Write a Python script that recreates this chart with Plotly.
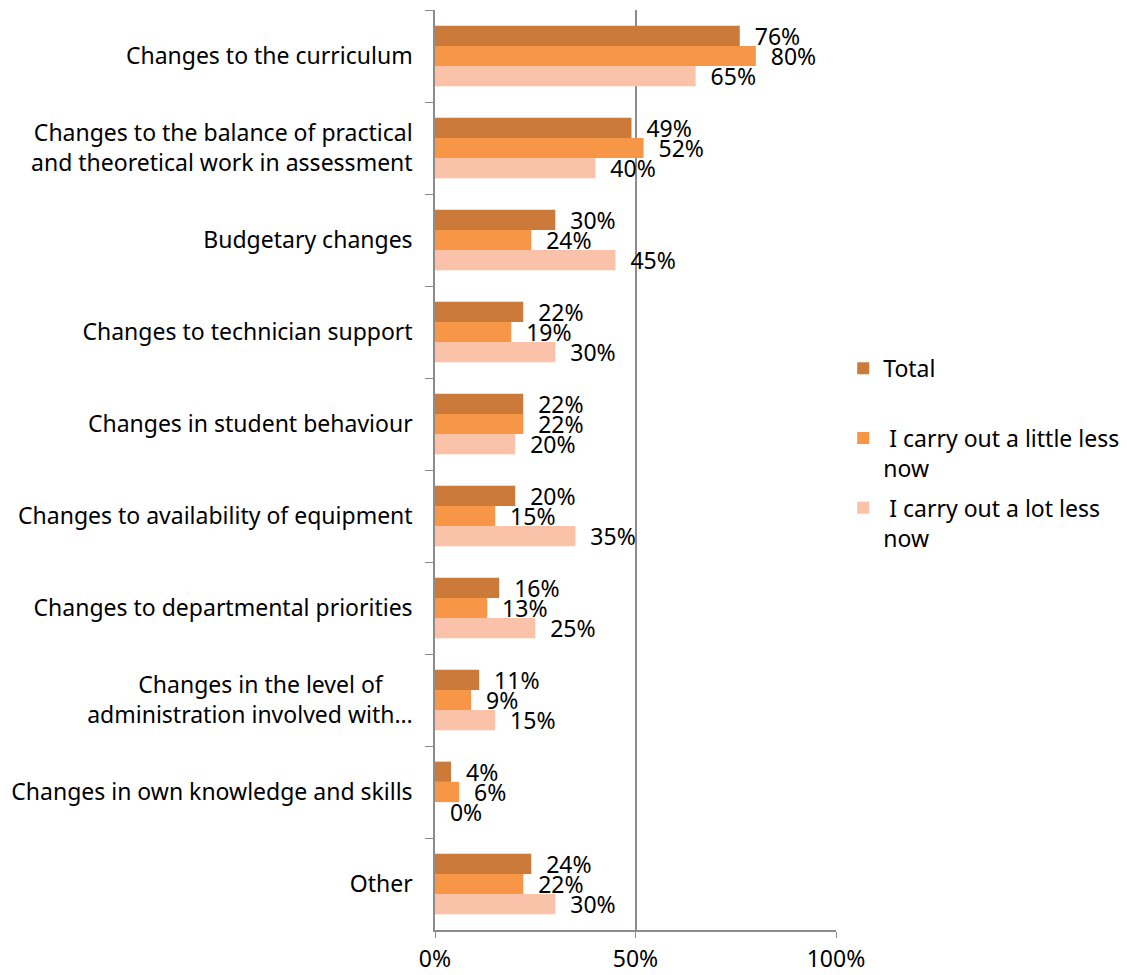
import plotly.graph_objects as go

CATEGORIES = [
    "Changes to the curriculum",
    "Changes to the balance of practical<br>and theoretical work in assessment",
    "Budgetary changes",
    "Changes to technician support",
    "Changes in student behaviour",
    "Changes to availability of equipment",
    "Changes to departmental priorities",
    "Changes in the level of\u00a0\u00a0\u00a0\u00a0\u00a0<br>administration involved with…",
    "Changes in own knowledge and skills",
    "Other",
]
TOTAL = [76, 49, 30, 22, 22, 20, 16, 11, 4, 24]
LITTLE_LESS = [80, 52, 24, 19, 22, 15, 13, 9, 6, 22]
LOT_LESS = [65, 40, 45, 30, 20, 35, 25, 15, 0, 30]
X_TICKS = [0, 50, 100]
X_TICK_LABELS = ["0%", "50%", "100%"]

SERIES = [
    ("Total<br>\u00a0", TOTAL, "#CB7A3A"),
    ("\u00a0I carry out a little less<br>now", LITTLE_LESS, "#F79646"),
    ("\u00a0I carry out a lot less<br>now", LOT_LESS, "#FAC3A9"),
]

FONT = "Noto Sans, Open Sans, sans-serif"
AXIS_GREY = "#8c8c8c"

fig = go.Figure()
for i, (name, vals, color) in enumerate(SERIES):
    fig.add_trace(go.Bar(
        y=CATEGORIES, x=vals, name=name, orientation="h",
        marker=dict(color=color, line=dict(width=0)),
        texttemplate="\u00a0\u00a0%{x:.0f}%", textposition="outside",
        textfont=dict(size=23, color="#000000", family=FONT),
        constraintext="none", cliponaxis=False,
        legendgroup=f"g{i}",
    ))

# the page sits 8px in from the window edge, so the figure is 8px narrower
fig.update_layout(
    width=1119, height=975,
    paper_bgcolor="white", plot_bgcolor="white",
    font=dict(family=FONT, size=23, color="#000000"),
    margin=dict(l=427, r=291, t=2, b=53),
    barmode="group", bargap=0.34, bargroupgap=0,
    legend=dict(x=1.018, y=0.634, yanchor="top", xanchor="left",
                font=dict(size=23), itemwidth=30, valign="top",
                tracegroupgap=7),
)
fig.update_xaxes(
    range=[0, 100], tickvals=X_TICKS, ticktext=X_TICK_LABELS,
    showgrid=True, gridcolor=AXIS_GREY, gridwidth=1.5,
    showline=True, linecolor=AXIS_GREY, linewidth=1.5,
    ticks="outside", ticklen=6, tickcolor=AXIS_GREY,
    ticklabelstandoff=2, zeroline=False, automargin=False,
)
fig.update_yaxes(
    autorange="reversed", showline=True, linecolor=AXIS_GREY, linewidth=1.5,
    ticks="outside", ticklen=8, tickcolor=AXIS_GREY, tickson="boundaries",
    ticklabelstandoff=16, showgrid=False, automargin=False,
)

fig.write_html("out.html")
